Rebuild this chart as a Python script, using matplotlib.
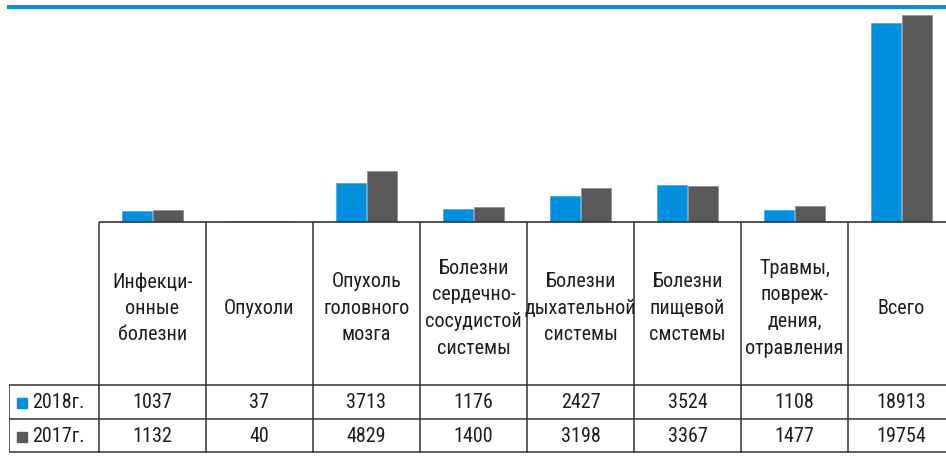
import matplotlib
matplotlib.use("Agg")
import matplotlib.pyplot as plt
from matplotlib.patches import Rectangle
import numpy as np

plt.rcParams['font.family'] = ['Roboto Condensed', 'Liberation Sans Narrow',
                               'Open Sans Condensed', 'DejaVu Sans Condensed',
                               'Roboto', 'DejaVu Sans']

categories = [
    "Инфекци-\nонные\nболезни",
    "Опухоли",
    "Опухоль\nголовного\nмозга",
    "Болезни\nсердечно-\nсосудистой\nсистемы",
    "Болезни\nдыхательной\nсистемы",
    "Болезни\nпищевой\nсмстемы",
    "Травмы,\nповреж-\nдения,\nотравления",
    "Всего",
]
series_names = ["2018г.", "2017г."]
values_2018 = [1037, 37, 3713, 1176, 2427, 3524, 1108, 18913]
values_2017 = [1132, 40, 4829, 1400, 3198, 3367, 1477, 19754]

BLUE = "#0090DF"
GREY = "#58595B"
LINE = "#333333"
TEXT = "#1e1e1e"

W, H = 946, 459
fig = plt.figure(figsize=(W / 100, H / 100), dpi=100)

def fx(px):
    return px / W

def fy(py):
    return 1 - py / H

x_left, x_right = -1.341, 7.416
base_px, top_px = 221.5, 7.0

# bar area
ax = fig.add_axes([fx(9), fy(base_px), fx(W - 9), (base_px - top_px) / H])
x = np.arange(len(categories))
bw = 0.285
ax.bar(x - 0.145, values_2018, bw, color=BLUE, edgecolor="#3aa6e6", linewidth=0.5)
ax.bar(x + 0.145, values_2017, bw, color=GREY, edgecolor="#8a8b8d", linewidth=0.5)
ax.set_xlim(x_left, x_right)
ax.set_ylim(0, 20487)
for s in ("left", "right", "bottom"):
    ax.spines[s].set_visible(False)
ax.spines["top"].set_color(BLUE)
ax.spines["top"].set_linewidth(2.9)
ax.set_xticks([])
ax.set_yticks([])

# data table below the bars
tb = fig.add_axes([fx(9), 0, fx(W - 9), (H - base_px) / H])
tb.set_xlim(x_left, x_right)
tb.set_ylim(H, base_px)
tb.axis("off")

row1_top, row2_top, table_bottom = 385.0, 419.0, 452.0
lw = 1.1
tb.plot([-0.5, x_right], [base_px + 0.5, base_px + 0.5], color=LINE, lw=1.2,
        solid_capstyle="butt", clip_on=False)
for yy in (row1_top, row2_top, table_bottom):
    tb.plot([x_left, x_right], [yy, yy], color=LINE, lw=lw, solid_capstyle="butt")
tb.plot([x_left + 0.004, x_left + 0.004], [row1_top, table_bottom], color=LINE, lw=lw)
for i in range(len(categories)):
    tb.plot([i - 0.5, i - 0.5], [base_px, table_bottom], color=LINE, lw=lw)

fs = 14.5
for i, cat in enumerate(categories):
    tb.text(i, (base_px + row1_top) / 2 + 5, cat, ha="center", va="center",
            fontsize=fs, color=TEXT, linespacing=1.5)
    tb.text(i, (row1_top + row2_top) / 2 + 1, str(values_2018[i]), ha="center",
            va="center", fontsize=fs, color=TEXT)
    tb.text(i, (row2_top + table_bottom) / 2 + 1, str(values_2017[i]), ha="center",
            va="center", fontsize=fs, color=TEXT)

# series keys in the first column
sw = 10 / 107
for yc, name, col in (((row1_top + row2_top) / 2, series_names[0], BLUE),
                      ((row2_top + table_bottom) / 2, series_names[1], GREY)):
    tb.add_patch(Rectangle((x_left + 8 / 107, yc - 4), sw, 10, color=col))
    tb.text(x_left + 23 / 107, yc + 1, name, ha="left", va="center",
            fontsize=fs, color=TEXT)

fig.savefig("out.png", dpi=100)
